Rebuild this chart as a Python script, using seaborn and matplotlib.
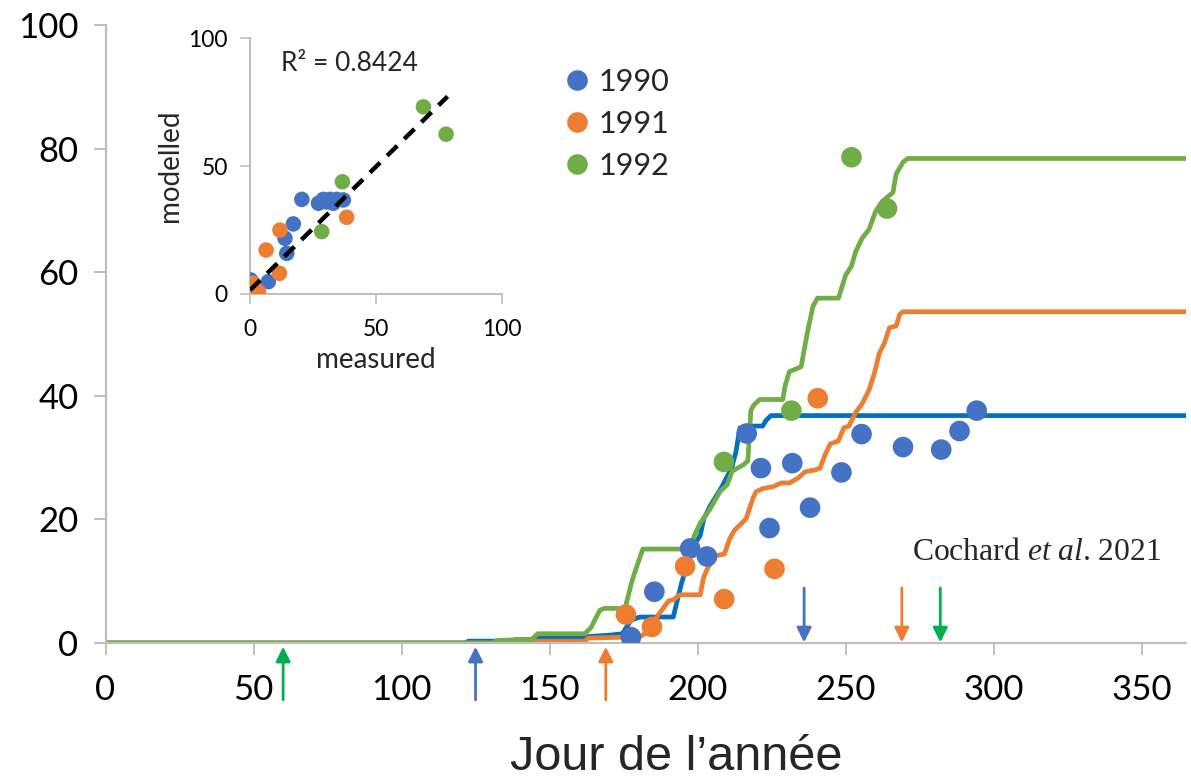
import numpy as np
import pandas as pd
import matplotlib
matplotlib.use("Agg")
import matplotlib.pyplot as plt
import seaborn as sns

# ---- modelled curves (day of year, value) ----
model_1990_day = [0, 122, 122.5, 137, 138, 146, 147, 162, 171, 174.6, 177.5, 180.5, 191.8, 192.9,
                  194.6, 196.3, 198.6, 200.9, 202.1, 204.4, 207.9, 211.5, 213, 214.3, 218, 222,
                  223.1, 224.8, 365]
model_1990_val = [0, 0, 0.3, 0.3, 0.5, 0.6, 0.9, 1.0, 1.3, 1.5, 3.7, 4.2, 4.2, 6.4, 9.7, 12.4,
                  15.7, 17.4, 20.1, 22.3, 25, 28.3, 31, 34.8, 35.1, 35.1, 36, 36.8, 36.8]

model_1991_day = [0, 141, 142, 162, 163, 172, 180.5, 183.9, 186.2, 187.9, 190.2, 191.9, 194, 200.9,
                  202, 203.2, 205.7, 209.1, 210.8, 212.4, 214.1, 216.4, 218.7, 219.8, 222.1, 225.5,
                  228.3, 231.1, 234, 236.3, 239.7, 241.4, 243.1, 244.8, 247.6, 249.4, 251.1, 253.4,
                  255.6, 257.9, 259.7, 261.4, 263.1, 264.8, 267.1, 268.3, 269.4, 365]
model_1991_val = [0, 0, 0.3, 0.3, 0.8, 0.9, 1.0, 2.0, 4.2, 5.3, 6.8, 7.0, 7.8, 7.8, 10.5, 11.9,
                  14.1, 14.4, 16.8, 18.2, 19, 20.1, 23.4, 24.5, 25, 25.3, 25.9, 25.9, 26.7, 27.7,
                  28, 28.3, 30.5, 32.2, 32.7, 34.8, 35.1, 37.3, 38.7, 40.9, 43.6, 46.9, 48.5, 51,
                  51.3, 53.2, 53.6, 53.6]

model_1992_day = [0, 131, 132, 144, 146, 162, 164, 167, 168.5, 175.5, 178, 181.5, 197.5, 199, 201,
                  204, 207.6, 210, 211.7, 215.7, 217, 218, 219, 221, 228.8, 229.5, 231, 235, 237,
                  239, 240.5, 247.6, 250, 252, 253.4, 255.6, 257.9, 260.2, 262.5, 266, 267.1,
                  269.4, 271, 365]
model_1992_val = [0, 0, 0.4, 0.6, 1.5, 1.5, 2.5, 5.3, 5.6, 5.6, 10.3, 15.2, 15.2, 17.5, 19.5, 21.5,
                  24.5, 25.6, 27.8, 28.9, 29.5, 37.6, 38.5, 39.4, 39.4, 41.5, 43.9, 44.7, 50, 54.5,
                  55.8, 55.8, 59.5, 61, 63.3, 65.5, 66.9, 69.9, 71.5, 72.9, 75.9, 77.8, 78.4, 78.4]

# ---- measured points ----
obs_1990_day = [177.5, 185.4, 197.5, 203.2, 216.6, 221.4, 224.3, 232, 238, 248.6, 255.4, 269.4,
                282.3, 288.5, 294.3]
obs_1990_val = [0.95, 8.3, 15.3, 14.0, 33.9, 28.3, 18.6, 29.1, 21.9, 27.6, 33.8, 31.7, 31.3, 34.3,
                37.6]
obs_1991_day = [175.8, 184.6, 195.8, 209, 226, 240.6]
obs_1991_val = [4.6, 2.6, 12.4, 7.1, 12.0, 39.6]
obs_1992_day = [208.9, 231.7, 252, 264]
obs_1992_val = [29.3, 37.6, 78.6, 70.3]

# ---- arrows: start (up) and end (down) of the season ----
start_day = {"1990": 125, "1991": 169, "1992": 60}
end_day = {"1990": 236, "1991": 269, "1992": 282}

# ---- inset: measured vs modelled ----
inset_1990_meas = [0.2, 7.3, 14.6, 13.9, 17.2, 20.6, 27.2, 29.1, 31.8, 33.1, 34.5, 37.1, 30.5]
inset_1990_mod = [5.5, 4.8, 15.9, 21.8, 27.4, 37.0, 35.5, 37.0, 37.0, 35.5, 37.0, 36.8, 36.0]
inset_1991_meas = [3.3, 1.3, 11.7, 6.4, 11.9, 38.4]
inset_1991_mod = [0.9, 4.2, 8.1, 17.2, 25.0, 30.0]
inset_1992_meas = [28.5, 36.7, 68.9, 77.9]
inset_1992_mod = [24.4, 43.9, 73.2, 62.5]
trend_slope, trend_intercept = 0.965, 1.5
trend_range = (0.0, 78.5)
r2_text = "R² = 0.8424"

years = ["1990", "1991", "1992"]
dot_colors = {"1990": "#4472C4", "1991": "#ED7D31", "1992": "#70AD47"}
line_colors = {"1990": "#0070C0", "1991": "#ED7D31", "1992": "#70AD47"}
arrow_colors = {"1990": "#4472C4", "1991": "#ED7D31", "1992": "#00B050"}

model_df = pd.concat([
    pd.DataFrame({"day": d, "value": v, "year": y})
    for d, v, y in [(model_1990_day, model_1990_val, "1990"),
                    (model_1991_day, model_1991_val, "1991"),
                    (model_1992_day, model_1992_val, "1992")]
], ignore_index=True)
obs_df = pd.concat([
    pd.DataFrame({"day": d, "value": v, "year": y})
    for d, v, y in [(obs_1990_day, obs_1990_val, "1990"),
                    (obs_1991_day, obs_1991_val, "1991"),
                    (obs_1992_day, obs_1992_val, "1992")]
], ignore_index=True)
inset_df = pd.concat([
    pd.DataFrame({"measured": m, "modelled": p, "year": y})
    for m, p, y in [(inset_1990_meas, inset_1990_mod, "1990"),
                    (inset_1991_meas, inset_1991_mod, "1991"),
                    (inset_1992_meas, inset_1992_mod, "1992")]
], ignore_index=True)

sns.set_theme(style="white")
plt.rcParams["font.family"] = ["Lato", "DejaVu Sans"]
plt.rcParams["mathtext.fontset"] = "custom"
plt.rcParams["mathtext.rm"] = "Liberation Serif"
plt.rcParams["mathtext.it"] = "Liberation Serif:italic"

GRAY = "#BFBFBF"
fig = plt.figure(figsize=(11.91, 7.82), dpi=100)
W, H = 1191, 782

# main axes
ax = fig.add_axes([105.5 / W, 1 - 643 / H, (1186 - 105.5) / W, (643 - 25) / H])
sns.lineplot(data=model_df, x="day", y="value", hue="year", hue_order=years,
             palette=line_colors, estimator=None, sort=False, lw=3.4, legend=False, ax=ax,
             zorder=2)
sns.scatterplot(data=obs_df, x="day", y="value", hue="year", hue_order=years,
                palette=dot_colors, s=220, linewidth=0, alpha=1, ax=ax, zorder=3)

ax.set_xlim(0, 365)
ax.set_ylim(0, 100)
ax.set_xticks(np.arange(0, 351, 50))
ax.set_yticks(np.arange(0, 101, 20))
ax.set_xlabel("")
ax.set_ylabel("")
for side in ["top", "right"]:
    ax.spines[side].set_visible(False)
for side in ["left", "bottom"]:
    ax.spines[side].set_color(GRAY)
    ax.spines[side].set_linewidth(1.6)
ax.tick_params(axis="both", which="major", length=8.5, width=1.4, color=GRAY,
               labelsize=25, labelcolor="black", direction="out")
ax.tick_params(axis="x", pad=14, bottom=True)
ax.tick_params(axis="y", pad=11, left=True)
ax.patch.set_alpha(0)

# season arrows
for y in years:
    ax.annotate("", xy=(start_day[y], -0.6), xytext=(start_day[y], -9.2),
                arrowprops=dict(arrowstyle="-|>", color=arrow_colors[y], lw=2,
                                mutation_scale=22, shrinkA=0, shrinkB=0),
                annotation_clip=False)
    ax.annotate("", xy=(end_day[y], 0.1), xytext=(end_day[y], 8.9),
                arrowprops=dict(arrowstyle="-|>", color=arrow_colors[y], lw=2,
                                mutation_scale=22, shrinkA=0, shrinkB=0),
                annotation_clip=False)

# legend
handles, labels = ax.get_legend_handles_labels()
ax.legend(handles, labels, loc="upper left", bbox_to_anchor=(566 / W, 1 - 68 / H),
          bbox_transform=fig.transFigure, frameon=False, fontsize=22, borderpad=0,
          borderaxespad=0, handlelength=0.7, handletextpad=0.35, labelspacing=0.46,
          markerscale=1.0)

# citation
fig.text(912 / W, 1 - 553 / H, r"Cochard $\mathit{et\ al}$. 2021", ha="left", va="center",
         fontsize=22.8, family="Liberation Serif")

# x-axis title
fig.text(676 / W, 1 - 758 / H, "Jour de l’année", ha="center", va="center", fontsize=35,
         family="Liberation Sans")

# inset
axi = fig.add_axes([250 / W, 1 - 294 / H, (501.7 - 250) / W, (294 - 38.3) / H])
axi.patch.set_alpha(0)
xs = np.array(trend_range)
axi.plot(xs, trend_slope * xs + trend_intercept, color="black", lw=3.2,
         linestyle=(0, (3.2, 2.2)), zorder=4)
sns.scatterplot(data=inset_df, x="measured", y="modelled", hue="year", hue_order=years,
                palette=dot_colors, s=125, linewidth=0, alpha=1, ax=axi, legend=False, zorder=3)
axi.set_xlim(0, 100)
axi.set_ylim(0, 100)
axi.set_xticks([0, 50, 100])
axi.set_yticks([0, 50, 100])
for side in ["top", "right"]:
    axi.spines[side].set_visible(False)
for side in ["left", "bottom"]:
    axi.spines[side].set_color(GRAY)
    axi.spines[side].set_linewidth(1.4)
axi.tick_params(axis="both", length=7, width=1.2, color=GRAY, labelsize=16.5,
                labelcolor="black", direction="out")
axi.tick_params(axis="x", pad=11, bottom=True)
axi.tick_params(axis="y", pad=9, left=True)
axi.set_xlabel("measured", fontsize=20, labelpad=5)
axi.set_ylabel("modelled", fontsize=20, labelpad=4)
axi.text(12.5, 90, r2_text, fontsize=19, va="center", ha="left")

fig.savefig("out.png", dpi=100)
